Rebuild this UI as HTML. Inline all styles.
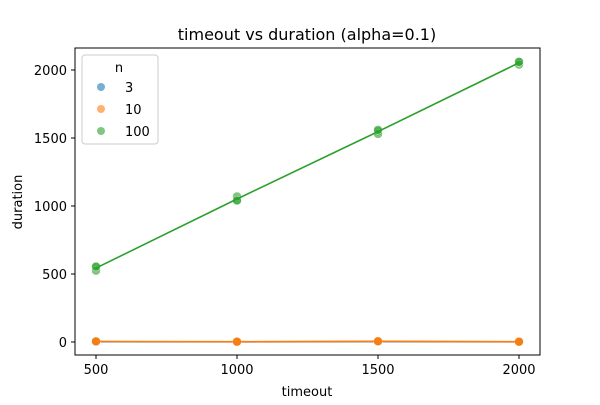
<!DOCTYPE html>
<html><head><meta charset="utf-8"><style>
body{margin:0;background:#fff;font-family:"Liberation Sans","DejaVu Sans",sans-serif}
svg text{font-family:"DejaVu Sans","Liberation Sans",sans-serif;fill:#000}
</style></head><body>
<svg id="chart" width="600" height="400">
<text x="307" y="40" font-size="16" text-anchor="middle">timeout vs duration (alpha=0.1)</text>
<rect x="75" y="48" width="465" height="307" fill="none" stroke="#000" stroke-width="1"/>
<g id="xt"></g><g id="yt"></g><g id="marks"></g>
<text x="307" y="396" font-size="13" text-anchor="middle">timeout</text>
<text x="22" y="202" font-size="13" text-anchor="middle" transform="rotate(-90 22 202)">duration</text>
<g>
<rect x="82" y="55" width="76" height="89" rx="3" fill="#fff" fill-opacity="0.8" stroke="#ccc"/>
<text x="119" y="72" font-size="13" text-anchor="middle">n</text>
<g><circle cx="101" cy="87" r="4" fill="#1f77b4" opacity="0.6"/><text x="125" y="92" font-size="13">3</text></g>
<g><circle cx="101" cy="109" r="4" fill="#ff7f0e" opacity="0.6"/><text x="125" y="114" font-size="13">10</text></g>
<g><circle cx="101" cy="131" r="4" fill="#2ca02c" opacity="0.6"/><text x="125" y="136" font-size="13">100</text></g>
</g>
</svg>
<script>
const xCats=[500,1000,1500,2000];
const xTicks=[500,1000,1500,2000];
const yTicks=[0,500,1000,1500,2000];
const seriesNames=["3","10","100"];
const colors=["#1f77b4","#ff7f0e","#2ca02c"];
const s3=[[2,1,3],[1,2,1],[3,2,4],[1,2,1]];
const s10=[[4,3,5],[2,3,2],[5,4,6],[2,3,2]];
const s100=[[551,525,555],[1045,1070,1040],[1551,1530,1560],[2059,2040,2060]];
const X=v=>96+(v-500)*141/500;
const Y=v=>342-v*68/500;
const NS="http://www.w3.org/2000/svg";
function mk(t,a,p){const e=document.createElementNS(NS,t);for(const k in a)e.setAttribute(k,a[k]);p.appendChild(e);return e;}
const xt=document.getElementById('xt'),yt=document.getElementById('yt'),mg=document.getElementById('marks');
xTicks.forEach(v=>{const g=mk('g',{},xt);


mk('line',{x1:X(v),x2:X(v),y1:355,y2:359,stroke:'#000'},g);
const t=mk('text',{x:X(v),y:374,'font-size':13,'text-anchor':'middle'},g);t.textContent=v;});
yTicks.forEach(v=>{const g=mk('g',{},yt);


mk('line',{x1:71,x2:75,y1:Y(v),y2:Y(v),stroke:'#000'},g);
const t=mk('text',{x:67,y:Y(v)+5,'font-size':13,'text-anchor':'end'},g);t.textContent=v;});
[s3,s10,s100].forEach((s,i)=>{const g=mk('g',{},mg);


s.forEach((pts,j)=>pts.forEach(v=>{const c=mk('circle',{cx:X(xCats[j]),cy:Y(v),r:4.5,fill:colors[i],'fill-opacity':0.6,stroke:'#fff','stroke-width':0.5},g);

}));
const means=s.map(p=>p.reduce((a,b)=>a+b,0)/p.length);
const l=mk('polyline',{points:means.map((m,j)=>X(xCats[j])+','+Y(m)).join(' '),fill:'none',stroke:colors[i],'stroke-width':1.6},g);

});
</script>
</body></html>
